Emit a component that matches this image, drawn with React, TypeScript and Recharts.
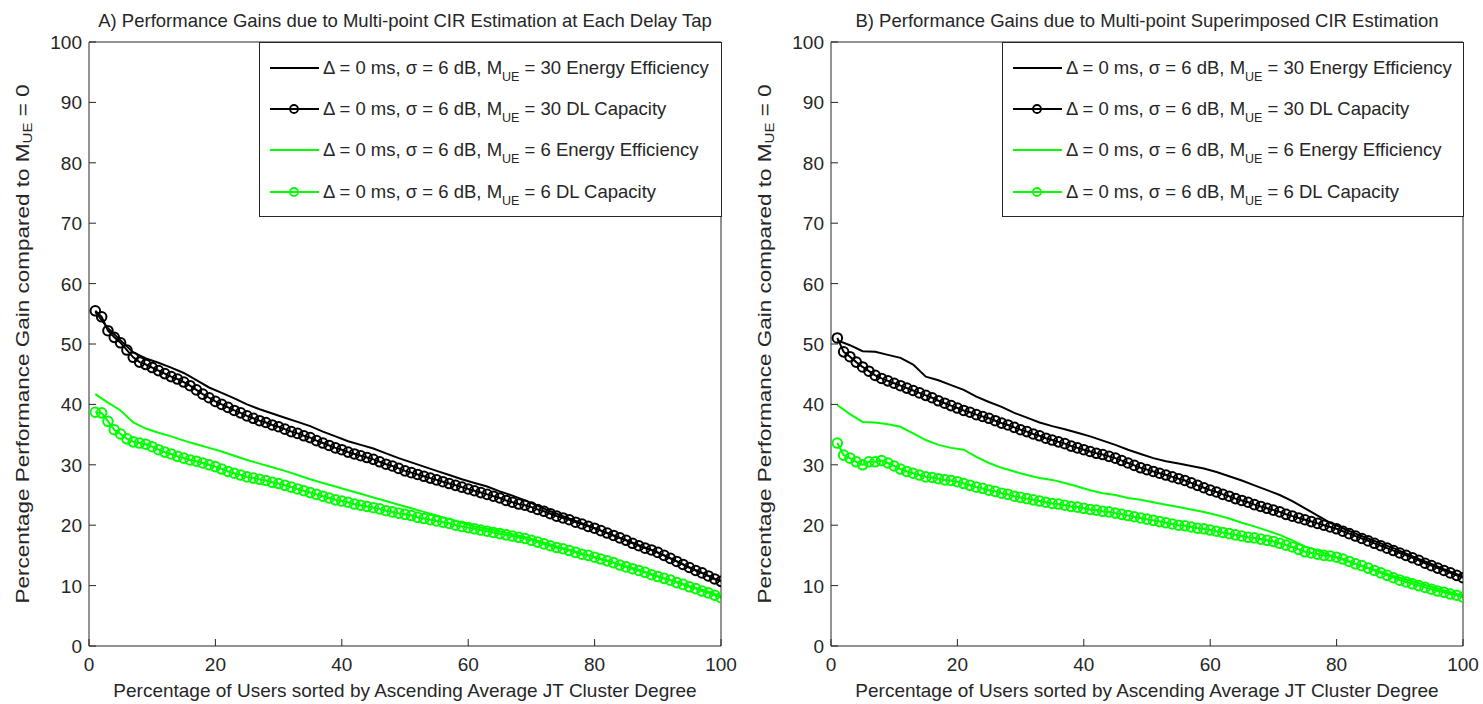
import React from 'react';
import { LineChart, Line, XAxis, YAxis, Legend } from 'recharts';

// percentile of users (x) – markers every 1 %, plain lines every 2 %
const usersPct = [
  1, 2, 3, 4, 5, 6, 7, 8, 9, 10, 11, 12, 13, 14, 15, 16, 17, 18, 19, 20,
  21, 22, 23, 24, 25, 26, 27, 28, 29, 30, 31, 32, 33, 34, 35, 36, 37, 38, 39, 40,
  41, 42, 43, 44, 45, 46, 47, 48, 49, 50, 51, 52, 53, 54, 55, 56, 57, 58, 59, 60,
  61, 62, 63, 64, 65, 66, 67, 68, 69, 70, 71, 72, 73, 74, 75, 76, 77, 78, 79, 80,
  81, 82, 83, 84, 85, 86, 87, 88, 89, 90, 91, 92, 93, 94, 95, 96, 97, 98, 99, 100,
];
const usersPctLine = [
  1, 3, 5, 7, 9, 11, 13, 15, 17, 19, 21, 23, 25, 27, 29, 31, 33, 35, 37, 39,
  41, 43, 45, 47, 49, 51, 53, 55, 57, 59, 61, 63, 65, 67, 69, 71, 73, 75, 77, 79,
  81, 83, 85, 87, 89, 91, 93, 95, 97, 99, 100,
];

const xTicks = [0, 20, 40, 60, 80, 100];
const yTicks = [0, 10, 20, 30, 40, 50, 60, 70, 80, 90, 100];

// Panel A
const aEnergyM30 = [
  55.3, 52.6, 50.6, 48.6, 47.6, 46.9, 46.1, 45.2, 44.0, 42.8,
  41.9, 41.0, 40.0, 39.2, 38.5, 37.8, 37.1, 36.4, 35.5, 34.7,
  33.9, 33.3, 32.7, 31.9, 31.1, 30.4, 29.7, 29.0, 28.3, 27.6,
  27.0, 26.4, 25.6, 24.9, 24.1, 23.2, 22.3, 21.5, 20.7, 19.9,
  19.1, 18.3, 17.5, 16.7, 15.9, 15.0, 14.0, 13.0, 12.1, 11.1, 10.8,
];
const aCapacityM30 = [
  55.5, 54.5, 52.2, 51.1, 50.2, 49.0, 47.8, 47.0, 46.6, 46.1,
  45.6, 45.1, 44.6, 44.2, 43.7, 43.1, 42.4, 41.7, 41.1, 40.5,
  40.0, 39.5, 39.0, 38.6, 38.1, 37.7, 37.3, 37.0, 36.6, 36.3,
  35.9, 35.5, 35.2, 34.8, 34.5, 34.0, 33.6, 33.2, 32.8, 32.5,
  32.1, 31.8, 31.5, 31.2, 30.9, 30.5, 30.1, 29.8, 29.4, 29.0,
  28.7, 28.4, 28.1, 27.8, 27.5, 27.2, 26.9, 26.6, 26.3, 26.0,
  25.7, 25.4, 25.1, 24.8, 24.5, 24.1, 23.8, 23.5, 23.3, 23.0,
  22.6, 22.3, 21.9, 21.5, 21.2, 20.9, 20.5, 20.2, 19.8, 19.5,
  19.1, 18.7, 18.3, 17.9, 17.5, 17.0, 16.6, 16.2, 15.9, 15.5,
  15.0, 14.5, 14.0, 13.5, 13.0, 12.5, 12.1, 11.6, 11.1, 10.7,
];
const aEnergyM6 = [
  41.7, 40.3, 39.0, 37.0, 36.0, 35.3, 34.7, 34.0, 33.4, 32.8,
  32.2, 31.5, 30.8, 30.2, 29.6, 29.0, 28.3, 27.6, 27.0, 26.4,
  25.8, 25.2, 24.6, 24.0, 23.4, 22.8, 22.2, 21.6, 21.0, 20.4,
  19.8, 19.4, 19.0, 18.5, 18.0, 17.4, 16.8, 16.2, 15.6, 15.0,
  14.4, 13.8, 13.2, 12.6, 11.9, 11.2, 10.6, 9.9, 9.3, 8.6, 8.3,
];
const aCapacityM6 = [
  38.7, 38.6, 37.2, 35.8, 35.1, 34.3, 33.8, 33.6, 33.4, 33.0,
  32.5, 32.1, 31.8, 31.4, 31.1, 30.8, 30.6, 30.3, 30.0, 29.7,
  29.3, 28.9, 28.6, 28.3, 28.0, 27.8, 27.6, 27.4, 27.1, 26.9,
  26.6, 26.3, 26.0, 25.7, 25.4, 25.1, 24.8, 24.5, 24.2, 24.0,
  23.8, 23.5, 23.3, 23.1, 22.9, 22.7, 22.4, 22.2, 22.0, 21.8,
  21.6, 21.3, 21.1, 20.9, 20.7, 20.5, 20.3, 20.0, 19.8, 19.6,
  19.4, 19.2, 19.0, 18.8, 18.6, 18.4, 18.2, 18.0, 17.8, 17.5,
  17.2, 16.9, 16.6, 16.3, 16.1, 15.8, 15.5, 15.2, 15.0, 14.7,
  14.4, 14.1, 13.8, 13.4, 13.1, 12.8, 12.5, 12.2, 11.8, 11.5,
  11.2, 10.9, 10.5, 10.2, 9.8, 9.5, 9.1, 8.8, 8.4, 8.0,
];

// Panel B
const bEnergyM30 = [
  50.6, 49.8, 48.8, 48.7, 48.2, 47.7, 46.6, 44.6, 44.0, 43.2,
  42.4, 41.3, 40.4, 39.6, 38.6, 37.8, 37.0, 36.4, 35.9, 35.3,
  34.7, 34.0, 33.3, 32.5, 31.8, 31.1, 30.6, 30.2, 29.8, 29.4,
  28.8, 28.1, 27.4, 26.6, 25.8, 25.0, 24.0, 22.8, 21.6, 20.4,
  19.5, 18.6, 17.8, 17.0, 16.2, 15.3, 14.4, 13.6, 12.7, 11.9, 11.5,
];
const bCapacityM30 = [
  51.0, 48.7, 47.9, 47.0, 46.2, 45.5, 44.8, 44.3, 43.9, 43.5,
  43.1, 42.7, 42.3, 41.9, 41.5, 41.1, 40.6, 40.2, 39.8, 39.4,
  39.0, 38.7, 38.3, 38.0, 37.7, 37.3, 36.9, 36.6, 36.2, 35.8,
  35.5, 35.1, 34.8, 34.4, 34.1, 33.8, 33.5, 33.1, 32.8, 32.5,
  32.2, 31.9, 31.7, 31.4, 31.1, 30.7, 30.3, 29.9, 29.5, 29.2,
  28.9, 28.6, 28.3, 28.0, 27.7, 27.4, 27.0, 26.6, 26.2, 25.8,
  25.5, 25.1, 24.8, 24.4, 24.1, 23.8, 23.4, 23.1, 22.8, 22.5,
  22.2, 21.8, 21.5, 21.2, 20.9, 20.6, 20.3, 20.0, 19.7, 19.4,
  19.0, 18.6, 18.2, 17.8, 17.4, 17.0, 16.6, 16.2, 15.8, 15.4,
  15.0, 14.6, 14.2, 13.7, 13.3, 12.9, 12.5, 12.1, 11.7, 11.3,
];
const bEnergyM6 = [
  39.9, 38.4, 37.1, 37.0, 36.7, 36.3, 35.2, 34.1, 33.3, 32.8,
  32.5, 31.3, 30.3, 29.5, 28.9, 28.3, 27.8, 27.5, 27.0, 26.4,
  25.8, 25.3, 25.0, 24.5, 24.2, 23.8, 23.4, 23.0, 22.6, 22.2,
  21.7, 21.1, 20.4, 19.8, 19.1, 18.4, 17.5, 16.5, 15.8, 15.0,
  14.3, 13.6, 12.9, 12.3, 11.6, 11.0, 10.4, 9.8, 9.2, 8.6, 8.3,
];
const bCapacityM6 = [
  33.6, 31.6, 31.1, 30.5, 30.0, 30.5, 30.5, 30.7, 30.3, 29.8,
  29.3, 28.9, 28.6, 28.3, 28.0, 27.9, 27.7, 27.5, 27.4, 27.2,
  26.9, 26.6, 26.3, 26.1, 25.8, 25.6, 25.3, 25.1, 24.8, 24.6,
  24.4, 24.2, 24.0, 23.8, 23.6, 23.5, 23.3, 23.1, 23.0, 22.8,
  22.6, 22.5, 22.3, 22.2, 22.0, 21.8, 21.6, 21.4, 21.2, 21.0,
  20.8, 20.6, 20.4, 20.2, 20.0, 19.9, 19.7, 19.5, 19.4, 19.2,
  19.0, 18.8, 18.6, 18.4, 18.2, 18.0, 17.9, 17.7, 17.5, 17.3,
  17.0, 16.7, 16.4, 16.0, 15.6, 15.4, 15.2, 15.0, 14.9, 14.7,
  14.4, 14.0, 13.6, 13.3, 12.9, 12.5, 12.1, 11.7, 11.3, 10.9,
  10.6, 10.3, 10.0, 9.7, 9.4, 9.1, 8.9, 8.6, 8.4, 8.1,
];

const titleA = 'A) Performance Gains due to Multi-point CIR Estimation at Each Delay Tap';
const titleB = 'B) Performance Gains due to Multi-point Superimposed CIR Estimation';
const xTitle = 'Percentage of Users sorted by Ascending Average JT Cluster Degree';
const legendUsers = ['30', '30', '6', '6'];
const legendMetrics = ['Energy Efficiency', 'DL Capacity', 'Energy Efficiency', 'DL Capacity'];

const FONT = "'Liberation Sans', Arial, Helvetica, sans-serif";
const TEXT = '#262626';
const AXIS = '#262626';
const BLACK = '#000000';
const GREEN = '#00ff00';
const legendColors = [BLACK, BLACK, GREEN, GREEN];
const legendMarkers = [false, true, false, true];

const toPts = (xs: number[], ys: number[]) => xs.map((x, i) => ({ x, y: ys[i] }));

const BottomTick = (p: any) => (
  <g>
    <line x1={p.x} x2={p.x} y1={p.y} y2={p.y - 7} stroke={AXIS} />
    <text x={p.x} y={p.y + 25} textAnchor="middle" fontSize={19} fill={TEXT} fontFamily={FONT}>
      {p.payload.value}
    </text>
  </g>
);
const TopTick = (p: any) => <line x1={p.x} x2={p.x} y1={p.y} y2={p.y + 7} stroke={AXIS} />;
const LeftTick = (p: any) => (
  <g>
    <line x1={p.x} x2={p.x + 7} y1={p.y} y2={p.y} stroke={AXIS} />
    <text x={p.x - 7} y={p.y + 7} textAnchor="end" fontSize={19} fill={TEXT} fontFamily={FONT}>
      {p.payload.value}
    </text>
  </g>
);
const RightTick = (p: any) => <line x1={p.x} x2={p.x - 7} y1={p.y} y2={p.y} stroke={AXIS} />;

const XTitle = (p: any) => {
  const vb = p.viewBox;
  return (
    <text x={vb.x + vb.width / 2} y={vb.y + 51} textAnchor="middle" fontSize={19} fill={TEXT} fontFamily={FONT}>
      {xTitle}
    </text>
  );
};

const YTitle = (p: any) => {
  const vb = p.viewBox;
  const cx = vb.x + vb.width - 67;
  const cy = vb.y + vb.height / 2;
  return (
    <text
      transform={`translate(${cx},${cy}) rotate(-90) scale(1,0.85)`}
      textAnchor="middle"
      dominantBaseline="central"
      fontSize={22.5}
      fill={TEXT}
      fontFamily={FONT}
    >
      Percentage Performance Gain compared to M
      <tspan fontSize={15} dy={6}>UE</tspan>
      <tspan dy={-6}> = 0</tspan>
    </text>
  );
};

const LegendBox = () => (
  <div
    style={{
      width: '100%',
      height: '100%',
      boxSizing: 'border-box',
      border: `1px solid ${AXIS}`,
      background: '#fff',
      paddingTop: 4,
      fontFamily: FONT,
      color: TEXT,
    }}
  >
    {legendUsers.map((m, i) => (
      <div key={i} style={{ display: 'flex', alignItems: 'center', height: 41.3, whiteSpace: 'nowrap' }}>
        <svg width={59} height={14} style={{ flex: 'none' }}>
          <line x1={10} x2={59} y1={7} y2={7} stroke={legendColors[i]} strokeWidth={2} />
          {legendMarkers[i] && (
            <circle cx={34} cy={7} r={4} fill="none" stroke={legendColors[i]} strokeWidth={1.8} />
          )}
        </svg>
        <span style={{ marginLeft: 4, fontSize: 18.5 }}>
          Δ = 0 ms, σ = 6 dB, M
          <span style={{ fontSize: 12.5, position: 'relative', top: 7 }}>UE</span> = {m} {legendMetrics[i]}
        </span>
      </div>
    ))}
  </div>
);

interface PanelProps {
  left: number;
  width: number;
  plotLeft: number;
  plotRight: number;
  legendLeft: number;
  title: string;
  energyM30: number[];
  capacityM30: number[];
  energyM6: number[];
  capacityM6: number[];
}

const Panel: React.FC<PanelProps> = ({
  left, width, plotLeft, plotRight, legendLeft, title,
  energyM30, capacityM30, energyM6, capacityM6,
}) => {
  const plotW = plotRight - plotLeft;
  const axisLine = { stroke: AXIS, strokeWidth: 1 };
  const marker = (c: string) => ({ r: 4.8, stroke: c, strokeWidth: 2, fill: 'none' });
  // every axis is 1px thick, so margins are one pixel short of the plot edges
  return (
    <div style={{ position: 'absolute', left, top: 0, width, height: 704 }}>
      <div
        style={{
          position: 'absolute', left: plotLeft - 60, width: plotW + 120, top: 9,
          textAlign: 'center', fontSize: 18.5, lineHeight: '24px', whiteSpace: 'nowrap',
          fontFamily: FONT, color: TEXT,
        }}
      >
        {title}
      </div>
      <LineChart
        width={width}
        height={704}
        margin={{ top: 41, right: width - plotRight - 1, bottom: 57, left: plotLeft - 1 }}
      >
        <XAxis
          xAxisId="b" dataKey="x" type="number" domain={[0, 100]} ticks={xTicks} interval={0}
          height={1} tickSize={0} tickMargin={0} axisLine={axisLine} tickLine={false}
          tick={BottomTick} label={XTitle} allowDataOverflow
        />
        <XAxis
          xAxisId="t" orientation="top" type="number" domain={[0, 100]} ticks={xTicks} interval={0}
          height={1} tickSize={0} tickMargin={0} axisLine={axisLine} tickLine={false} tick={TopTick}
        />
        <YAxis
          yAxisId="l" type="number" domain={[0, 100]} ticks={yTicks} interval={0}
          width={1} tickSize={0} tickMargin={0} axisLine={axisLine} tickLine={false}
          tick={LeftTick} label={YTitle} allowDataOverflow
        />
        <YAxis
          yAxisId="r" orientation="right" type="number" domain={[0, 100]} ticks={yTicks} interval={0}
          width={1} tickSize={0} tickMargin={0} axisLine={axisLine} tickLine={false} tick={RightTick}
        />
        <Legend
          layout="vertical" align="center" verticalAlign="middle"
          wrapperStyle={{ left: legendLeft, top: 42, width: plotRight - legendLeft + 1, height: 175 }}
          content={() => <LegendBox />}
        />
        <Line
          xAxisId="b" yAxisId="l" data={toPts(usersPctLine, energyM30)} dataKey="y" type="linear"
          stroke={BLACK} strokeWidth={2} dot={false} activeDot={false} isAnimationActive={false}
        />
        <Line
          xAxisId="b" yAxisId="l" data={toPts(usersPct, capacityM30)} dataKey="y" type="linear"
          stroke={BLACK} strokeWidth={2} dot={marker(BLACK)} activeDot={false} isAnimationActive={false}
        />
        <Line
          xAxisId="b" yAxisId="l" data={toPts(usersPctLine, energyM6)} dataKey="y" type="linear"
          stroke={GREEN} strokeWidth={2} dot={false} activeDot={false} isAnimationActive={false}
        />
        <Line
          xAxisId="b" yAxisId="l" data={toPts(usersPct, capacityM6)} dataKey="y" type="linear"
          stroke={GREEN} strokeWidth={2} dot={marker(GREEN)} activeDot={false} isAnimationActive={false}
        />
      </LineChart>
    </div>
  );
};

export default function App() {
  return (
    <div style={{ position: 'absolute', left: 0, top: 0, width: 1483, height: 704, background: '#fff' }}>
      <Panel
        left={0} width={740} plotLeft={89} plotRight={721} legendLeft={259} title={titleA}
        energyM30={aEnergyM30} capacityM30={aCapacityM30} energyM6={aEnergyM6} capacityM6={aCapacityM6}
      />
      <Panel
        left={740} width={743} plotLeft={91} plotRight={723} legendLeft={262} title={titleB}
        energyM30={bEnergyM30} capacityM30={bCapacityM30} energyM6={bEnergyM6} capacityM6={bCapacityM6}
      />
    </div>
  );
}
